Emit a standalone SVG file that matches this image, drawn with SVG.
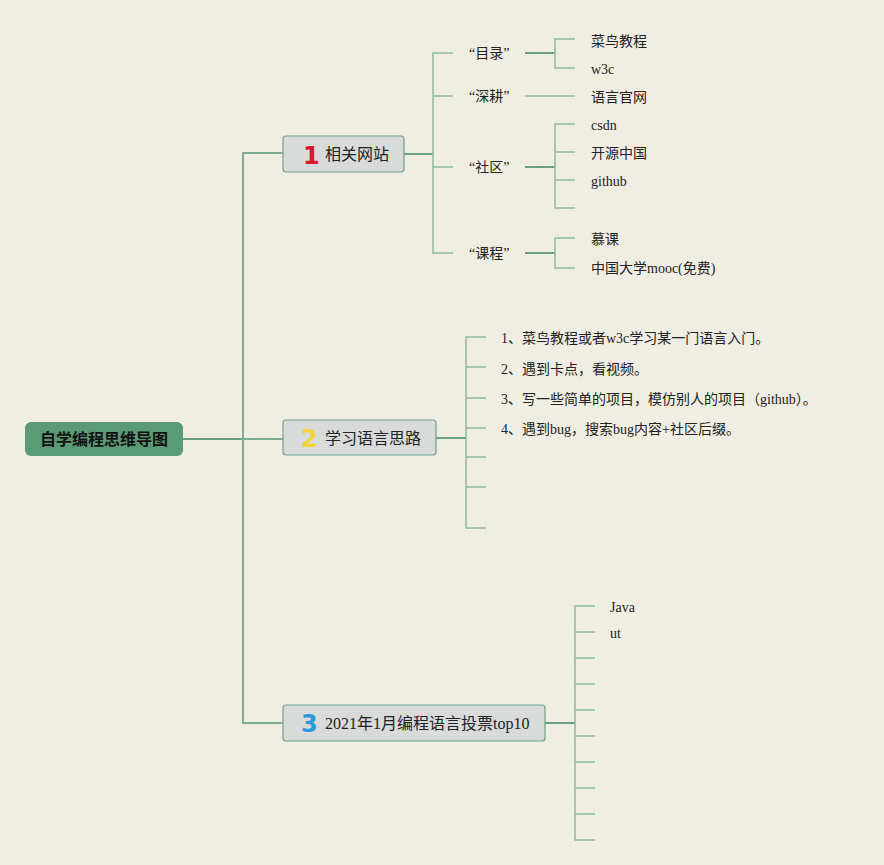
<svg xmlns="http://www.w3.org/2000/svg" width="884" height="865" viewBox="0 0 884 865">
<defs>
<pattern id="dots" width="12" height="12" patternUnits="userSpaceOnUse">
<rect width="12" height="12" fill="#f0ede3"/>
<circle cx="6" cy="6" r="1" fill="#e9e6dc"/>
</pattern>
</defs>
<style>
.ln{fill:none;stroke:#8db8a2;stroke-width:1.5}
.st{fill:none;stroke:#6a9f87;stroke-width:2}
.tk{fill:none;stroke:#7aae96;stroke-width:2}
.sub{fill:#d8dbd9;stroke:#6ea28c;stroke-width:1.2}
.t{font-family:"Liberation Serif","Noto Sans CJK SC",serif;font-size:14px;fill:#222}
.tm{font-family:"Liberation Serif","Noto Sans CJK SC",serif;font-size:16px;fill:#222}
.ic{font-family:"DejaVu Sans",sans-serif;font-weight:bold;font-size:24px}
</style>
<rect width="884" height="865" fill="url(#dots)"/>
<g id="connectors">
<path class="st" d="M183 439H243"/>
<path class="tk" d="M283 153H243V723H283M243 439H283"/>
<path class="st" d="M404 154H433"/>
<path class="ln" d="M453 53H433V253H453M433 96H453M433 167H453"/>
<path class="st" d="M525 53H555"/>
<path class="ln" d="M575 39H555V68H575"/>
<path class="ln" d="M525 96H575"/>
<path class="st" d="M525 167H555"/>
<path class="ln" d="M575 124H555V208H575M555 152H575M555 180H575"/>
<path class="st" d="M525 253H555"/>
<path class="ln" d="M575 238H555V268H575"/>
<path class="st" d="M436 438H466"/>
<path class="ln" d="M486 337H466V528H486M466 367H486M466 398H486M466 428H486M466 457H486M466 487H486"/>
<path class="st" d="M545 723H575"/>
<path class="ln" d="M595 606H575V840H595M575 632H595M575 658H595M575 684H595M575 710H595M575 736H595M575 762H595M575 788H595M575 814H595"/>
</g>
<g id="root">
<rect x="25" y="422" width="158" height="34" rx="6" fill="#5b9a76"/>
<text x="104" y="445" text-anchor="middle" font-family="'Noto Sans CJK SC',sans-serif" font-weight="bold" font-size="16" fill="#111">自学编程思维导图</text>
</g>
<g id="n1">
<rect class="sub" x="283" y="136" width="121" height="36" rx="3"/>
<text class="ic" x="303" y="164" fill="#d9172e">1</text>
<text class="tm" x="325" y="160">相关网站</text>
</g>
<g id="n2">
<rect class="sub" x="283" y="420" width="153" height="35" rx="3"/>
<text class="ic" x="301" y="447" fill="#f3d43c">2</text>
<text class="tm" x="325" y="444">学习语言思路</text>
</g>
<g id="n3">
<rect class="sub" x="283" y="705" width="262" height="36" rx="3"/>
<text class="ic" x="301" y="732" fill="#2a9ad8">3</text>
<text class="tm" x="325" y="729">2021年1月编程语言投票top10</text>
</g>
<g id="n1-children">
<text class="t" x="469" y="58">“目录”</text>
<text class="t" x="469" y="101">“深耕”</text>
<text class="t" x="469" y="172">“社区”</text>
<text class="t" x="469" y="258">“课程”</text>
<text class="t" x="591" y="46">菜鸟教程</text>
<text class="t" x="591" y="74">w3c</text>
<text class="t" x="591" y="102">语言官网</text>
<text class="t" x="591" y="130">csdn</text>
<text class="t" x="591" y="158">开源中国</text>
<text class="t" x="591" y="186">github</text>
<text class="t" x="591" y="244">慕课</text>
<text class="t" x="591" y="273">中国大学mooc(免费)</text>
</g>
<g id="n2-children">
<text class="t" x="501" y="343">1、菜鸟教程或者w3c学习某一门语言入门。</text>
<text class="t" x="501" y="374">2、遇到卡点，看视频。</text>
<text class="t" x="501" y="404">3、写一些简单的项目，模仿别人的项目（github）。</text>
<text class="t" x="501" y="434">4、遇到bug，搜索bug内容+社区后缀。</text>
</g>
<g id="n3-children">
<text class="t" x="610" y="612">Java</text>
<text class="t" x="610" y="638">ut</text>
</g>
</svg>
